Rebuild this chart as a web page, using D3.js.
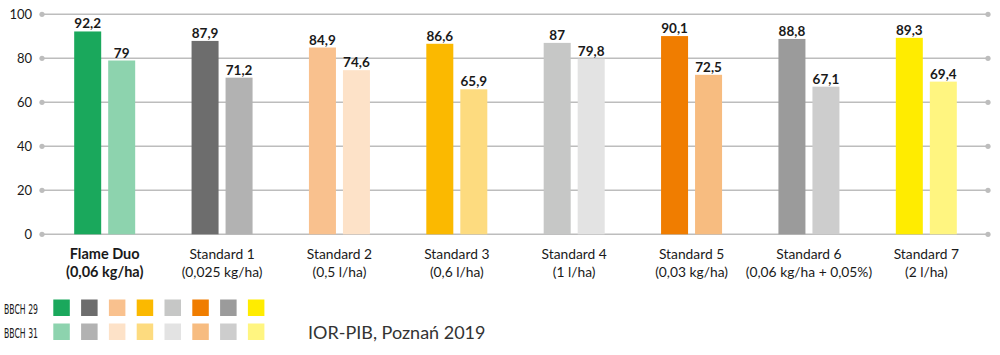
<!DOCTYPE html>
<html><head><meta charset="utf-8">
<script src="https://cdn.jsdelivr.net/npm/d3@7"></script>
<style>body{margin:0;background:#fff}svg{display:block}</style>
</head><body><div id="chart"></div>
<script>
const categories = ["Flame Duo|(0,06 kg/ha)","Standard 1|(0,025 kg/ha)","Standard 2|(0,5 l/ha)","Standard 3|(0,6 l/ha)","Standard 4|(1 l/ha)","Standard 5|(0,03 kg/ha)","Standard 6|(0,06 kg/ha + 0,05%)","Standard 7|(2 l/ha)"];
const bbch29 = [92.2, 87.9, 84.9, 86.6, 87, 90.1, 88.8, 89.3];
const bbch31 = [79, 71.2, 74.6, 65.9, 79.8, 72.5, 67.1, 69.4];
const colors29 = ["#1aa85c","#6d6d6d","#f9c18e","#fbb900","#c6c7c6","#f07d00","#9b9b9b","#ffec00"];
const colors31 = ["#8dd3ae","#b2b2b2","#fde2c8","#fddb7f","#e3e3e3","#f7bc80","#cdcdcd","#fff580"];
const seriesNames = ["BBCH 29","BBCH 31"];
const yTicks = [0,20,40,60,80,100];
const note = "IOR-PIB, Poznań 2019";

const W=1000,H=355;
const svg=d3.select("#chart").append("svg").attr("width",W).attr("height",H);
const font="Lato, 'Open Sans', sans-serif";
const x=d3.scaleBand().domain(categories).range([46,985]).paddingInner(0).paddingOuter(0);
const y=d3.scaleLinear().domain([0,100]).range([234.3,14.3]);
const bw=27, gap=7;

// grid
const g=svg.append("g");
yTicks.forEach(t=>{
  g.append("line").attr("x1",42).attr("x2",988).attr("y1",y(t)).attr("y2",y(t)).attr("stroke","#bdbdbd").attr("stroke-width",1.5);
  g.append("circle").attr("cx",42).attr("cy",y(t)).attr("r",2.6).attr("fill","#bdbdbd");
  g.append("circle").attr("cx",988).attr("cy",y(t)).attr("r",2.6).attr("fill","#bdbdbd");
  g.append("text").attr("x",32).attr("y",y(t)+4.5).attr("text-anchor","end").attr("font-family",font).attr("font-size",13).attr("fill","#1a1a1a").text(t);
});

const series=[{v:bbch29,c:colors29,off:-gap/2-bw},{v:bbch31,c:colors31,off:gap/2}];
series.forEach(s=>{
  categories.forEach((cat,i)=>{
    const cx=x(cat)+x.bandwidth()/2;
    const x0=cx+s.off;
    svg.append("rect").attr("x",x0).attr("y",y(s.v[i])).attr("width",bw).attr("height",y(0)-y(s.v[i])).attr("fill",s.c[i]);
    svg.append("text").attr("x",x0+bw/2).attr("y",y(s.v[i])-3).attr("text-anchor","middle").attr("font-family",font).attr("font-weight","bold").attr("font-size",13.5).attr("fill","#1a1a1a").text(String(s.v[i]).replace(".",","));
  });
});

categories.forEach((cat,i)=>{
  const cx=x(cat)+x.bandwidth()/2;
  const parts=cat.split("|");
  parts.forEach((p,j)=>{
    svg.append("text").attr("x",cx).attr("y",258.7+j*18).attr("text-anchor","middle").attr("font-family",font).attr("font-size",i===0?14.5:13.8)
      .attr("font-weight",i===0?"bold":"normal").attr("fill","#1a1a1a").text(p);
  });
});

// legend
const lg=svg.append("g");
[colors29,colors31].forEach((cs,r)=>{
  const yy=299.5+r*24;
  lg.append("text").attr("x",4).attr("y",yy+14.5).attr("font-family","'DejaVu Sans Condensed', 'Liberation Sans Narrow', sans-serif").attr("font-size",13.5)
    .attr("textLength",34).attr("lengthAdjust","spacingAndGlyphs").attr("fill","#1a1a1a").text(seriesNames[r]);
  cs.forEach((c,i)=>{
    lg.append("rect").attr("x",53.3+i*27.8).attr("y",yy).attr("width",16.5).attr("height",16.5).attr("fill",c);
  });
});
svg.append("text").attr("x",308).attr("y",339).attr("font-family",font).attr("font-size",18).attr("fill","#333").text(note);
</script></body></html>
